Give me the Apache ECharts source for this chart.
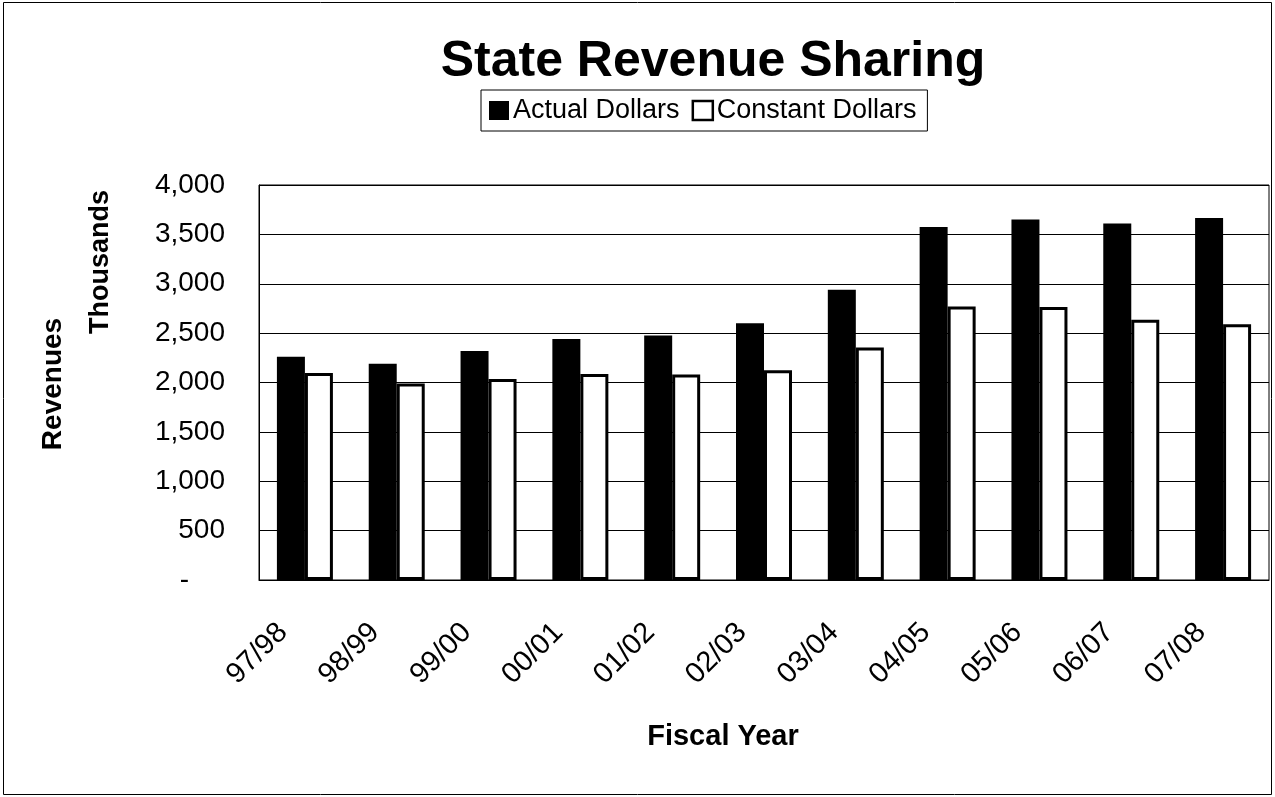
<!DOCTYPE html>
<html>
<head>
<meta charset="utf-8">
<script src="https://cdn.jsdelivr.net/npm/echarts@6/dist/echarts.min.js"></script>
<style>
  html, body { margin: 0; padding: 0; background: #fff; }
  #chart { width: 1275px; height: 797px; }
</style>
</head>
<body>
<div id="chart"></div>
<script>
// Fiscal years and revenue series (thousands of dollars)
const fiscalYears = ['97/98', '98/99', '99/00', '00/01', '01/02', '02/03', '03/04', '04/05', '05/06', '06/07', '07/08'];
const actualDollars = [2260, 2190, 2320, 2440, 2475, 2600, 2940, 3575, 3650, 3610, 3665];
const constantDollars = [2095, 1990, 2035, 2085, 2080, 2125, 2355, 2770, 2765, 2635, 2590];
const yTicks = [0, 500, 1000, 1500, 2000, 2500, 3000, 3500, 4000];

const FONT = 'Liberation Sans, Arial, sans-serif';
const chart = echarts.init(document.getElementById('chart'));

chart.setOption({
  animation: false,
  backgroundColor: '#fff',
  title: {
    text: 'State Revenue Sharing',
    left: 713,
    top: 37,
    textAlign: 'center',
    padding: 0,
    textStyle: { fontFamily: FONT, fontSize: 50, fontWeight: 'bold', color: '#000' }
  },
  legend: {
    left: 481,
    top: 90,
    orient: 'horizontal',
    icon: 'rect',
    itemWidth: 20,
    itemHeight: 19,
    itemGap: 12,
    padding: [7, 11, 7, 8],
    borderColor: '#000',
    borderWidth: 1,
    textStyle: { fontFamily: FONT, fontSize: 27, color: '#000', padding: [0, 0, 0, -1] },
    data: [
      { name: 'Actual Dollars', itemStyle: { color: '#000' } },
      { name: 'Constant Dollars', itemStyle: { color: '#fff', borderColor: '#000', borderWidth: 2.5 } }
    ]
  },
  grid: { left: 259, right: 6, top: 185, bottom: 217, show: true, borderColor: '#000', borderWidth: 1 },
  xAxis: {
    type: 'category',
    data: fiscalYears,
    axisLine: { lineStyle: { color: '#000', width: 1 } },
    axisTick: { show: false },
    axisLabel: {
      interval: 0,
      rotate: 45,
      margin: 26,
      padding: [0, 31, 0, 0],
      fontFamily: FONT,
      fontSize: 29,
      color: '#000'
    }
  },
  yAxis: {
    type: 'value',
    min: yTicks[0],
    max: yTicks[yTicks.length - 1],
    interval: 500,
    axisLine: { show: true, lineStyle: { color: '#000', width: 1 } },
    axisTick: { show: false },
    splitLine: { lineStyle: { color: '#000', width: 1 } },
    axisLabel: {
      margin: 34,
      fontFamily: FONT,
      fontSize: 28,
      color: '#000',
      formatter: function (v) {
        return v === 0 ? '{z|-}' : v.toLocaleString('en-US');
      },
      rich: {
        z: { fontFamily: FONT, fontSize: 28, color: '#000', padding: [0, 36, 0, 0] }
      }
    }
  },
  graphic: [
    {
      type: 'rect',
      shape: { x: 3.5, y: 2.5, width: 1268, height: 792 },
      style: { fill: 'none', stroke: '#000', lineWidth: 1 },
      silent: true
    },
    {
      type: 'text',
      x: 101, y: 262, rotation: Math.PI / 2,
      style: { text: 'Thousands', fontFamily: FONT, fontSize: 27, fontWeight: 'bold', fill: '#000', align: 'center', verticalAlign: 'middle' }
    },
    {
      type: 'text',
      x: 53, y: 384, rotation: Math.PI / 2,
      style: { text: 'Revenues', fontFamily: FONT, fontSize: 28, fontWeight: 'bold', fill: '#000', align: 'center', verticalAlign: 'middle' }
    },
    {
      type: 'text',
      x: 723, y: 737,
      style: { text: 'Fiscal Year', fontFamily: FONT, fontSize: 29, fontWeight: 'bold', fill: '#000', align: 'center', verticalAlign: 'middle' }
    }
  ],
  series: [
    {
      name: 'Actual Dollars',
      type: 'bar',
      data: actualDollars,
      barWidth: 28,
      barGap: '0%',
      itemStyle: { color: '#000' }
    },
    {
      name: 'Constant Dollars',
      type: 'bar',
      data: constantDollars,
      barWidth: 28,
      barGap: '0%',
      itemStyle: { color: '#fff', borderColor: '#000', borderWidth: 3 }
    }
  ]
});
</script>
</body>
</html>
